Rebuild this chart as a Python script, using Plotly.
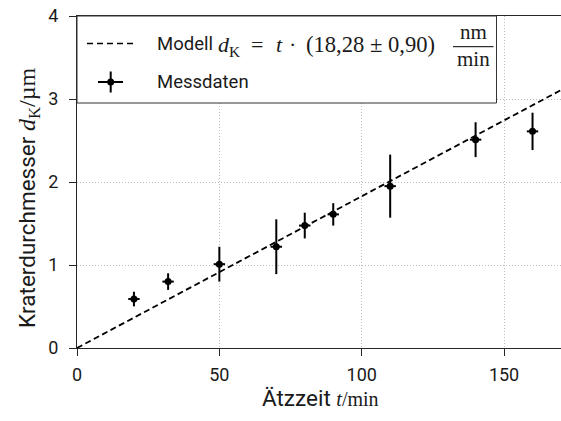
import numpy as np
import plotly.graph_objects as go

# Measured crater diameters vs. etching time
t_min = [20, 32, 50, 70, 80, 90, 110, 140, 160]
d_um = [0.59, 0.80, 1.01, 1.22, 1.475, 1.61, 1.95, 2.51, 2.61]
d_err = [0.088, 0.10, 0.21, 0.33, 0.155, 0.135, 0.38, 0.21, 0.225]
t_err = [2, 2, 2, 2, 2, 2, 2, 2, 2]

# Fitted model: d = t * rate (rate in nm/min)
rate_nm = 18.28
rate_err_nm = 0.90
t_fit = np.linspace(0, 170, 200)
d_fit = t_fit * rate_nm / 1000.0

x_ticks = [0, 50, 100, 150]
y_ticks = [0, 1, 2, 3, 4]

W, H = 561, 421
ML, MR, MT, MB = 77, 0, 16, 73
PW, PH = W - ML - MR, H - MT - MB

SANS = "Roboto"
SERIF = "Liberation Serif"
INK = "#1a1a1a"


def px(x):
    return (x - ML) / PW


def py(y):
    return (H - MB - y) / PH


def de(num):
    return f"{num:.2f}".replace(".", ",")


fig = go.Figure()

fig.add_trace(go.Scatter(
    x=t_fit, y=d_fit, mode="lines",
    line=dict(color="black", width=1.8, dash="6px,3.5px"),
    showlegend=False, hoverinfo="skip",
))

fig.add_trace(go.Scatter(
    x=t_min, y=d_um, mode="markers",
    marker=dict(color="black", size=7, symbol="circle"),
    error_y=dict(type="data", array=d_err, color="black", thickness=2, width=0),
    error_x=dict(type="data", array=t_err, color="black", thickness=2, width=0),
    showlegend=False,
))

# Legend box drawn by hand so the formula can carry a stacked unit fraction
ROW1, ROW2 = 45.5, 82.0
shapes = [
    dict(type="rect", xref="paper", yref="paper",
         x0=px(77), x1=px(496.5), y0=py(16), y1=py(103),
         fillcolor="white", line=dict(color="#333333", width=1), layer="above"),
    dict(type="line", xref="paper", yref="paper",
         x0=px(87), x1=px(134), y0=py(ROW1 - 2), y1=py(ROW1 - 2),
         line=dict(color="black", width=1.6, dash="6px,4px"), layer="above"),
    dict(type="line", xref="paper", yref="paper",
         x0=px(98), x1=px(123), y0=py(ROW2), y1=py(ROW2),
         line=dict(color="black", width=2), layer="above"),
    dict(type="line", xref="paper", yref="paper",
         x0=px(110.7), x1=px(110.7), y0=py(ROW2 - 10.5), y1=py(ROW2 + 10.5),
         line=dict(color="black", width=2), layer="above"),
    dict(type="circle", xref="paper", yref="paper",
         x0=px(107.2), x1=px(114.2), y0=py(ROW2 - 3.5), y1=py(ROW2 + 3.5),
         fillcolor="black", line=dict(color="black", width=0), layer="above"),
    dict(type="line", xref="paper", yref="paper",
         x0=px(453), x1=px(493.5), y0=py(46.7), y1=py(46.7),
         line=dict(color="black", width=1), layer="above"),
]

serif = f"font-family:{SERIF}"


def ann(text, x, y, size, family=SANS, xanchor="left", **kw):
    d = dict(text=text, x=px(x), y=py(y), xanchor=xanchor, yanchor="middle",
             xref="paper", yref="paper", showarrow=False,
             font=dict(family=family, size=size, color=INK))
    d.update(kw)
    return d


annotations = [
    ann("Modell", 155, ROW1 - 1, 18.5),
    ann("<i>d</i><sub>K</sub>", 216, ROW1, 22, SERIF),
    ann("=", 256.7, ROW1 - 1.5, 22, SERIF, "center"),
    ann("<i>t</i>", 279, ROW1 - 1.5, 22, SERIF, "center"),
    ann("·", 292, ROW1 - 1.5, 22, SERIF, "center"),
    ann(f"({de(rate_nm)} ± {de(rate_err_nm)})", 304, ROW1 - 1.5, 22.6, SERIF),
    ann("nm", 473.3, 31.5, 21, SERIF, "center"),
    ann("min", 473.3, 59.5, 21, SERIF, "center"),
    ann("Messdaten", 155, ROW2, 18.5),
    # Axis titles
    ann(f"Ätzzeit <span style='{serif};font-size:20px'><i>t</i>/min</span>",
        320, 398, 22.5, SANS, "center"),
    ann(f"Kraterdurchmesser <span style='{serif};font-size:24px'><i>d</i><sub>K</sub>/µm</span>",
        29, 198, 22.5, SANS, "center", textangle=-90),
]

axis_common = dict(
    showline=True, linecolor="#262626", linewidth=1.2,
    ticks="outside", ticklen=7, tickwidth=1.2, tickcolor="#262626",
    showgrid=True, gridcolor="#bbbbbb", gridwidth=1, griddash="1px,2px",
    zeroline=False,
    tickfont=dict(family=SANS, size=18, color=INK),
)

fig.update_layout(
    width=W, height=H,
    margin=dict(l=ML, r=MR, t=MT, b=MB),
    paper_bgcolor="white", plot_bgcolor="white",
    xaxis=dict(range=[0, 170], tickvals=x_ticks, mirror=True,
               ticklabelstandoff=3, **axis_common),
    yaxis=dict(range=[0, 4], tickvals=y_ticks, ticklabelstandoff=7, **axis_common),
    shapes=shapes, annotations=annotations,
    showlegend=False,
)

fig.write_html("out.html")
